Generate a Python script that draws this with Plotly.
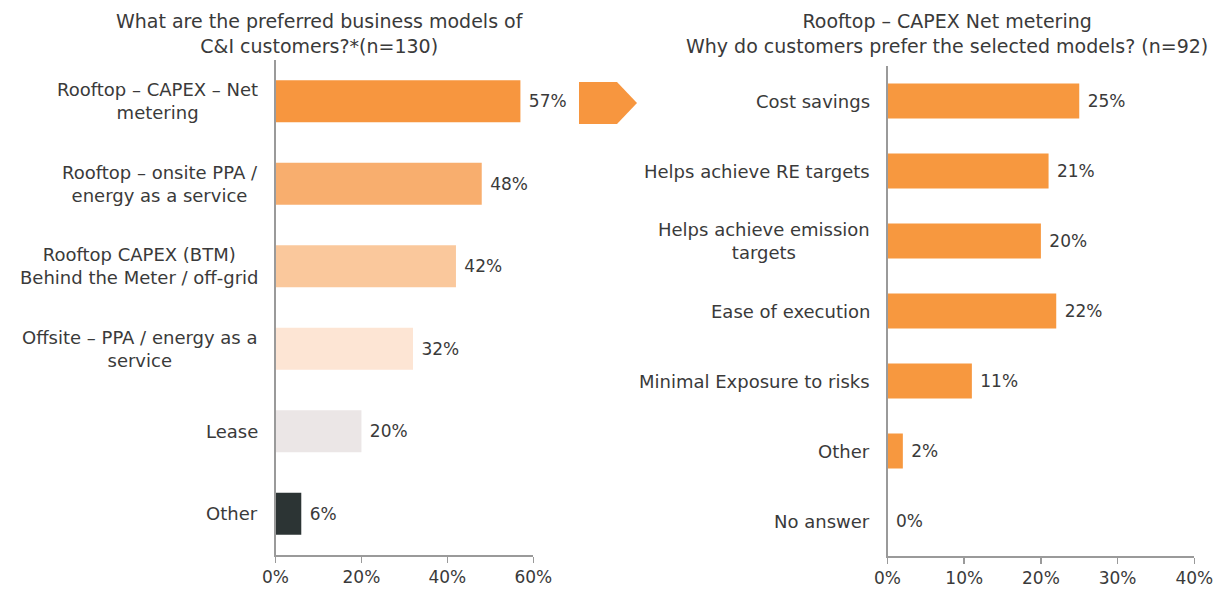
import plotly.graph_objects as go

# ---- data ----
left_categories = [
    "Rooftop – CAPEX – Net<br>metering",
    "Rooftop – onsite PPA /<br>energy as a service",
    "Rooftop CAPEX (BTM)<br>Behind the Meter / off-grid",
    "Offsite – PPA / energy as a<br>service",
    "Lease",
    "Other",
]
left_values = [57, 48, 42, 32, 20, 6]
left_colors = ["#F7963F", "#F8AE6E", "#FAC89C", "#FDE5D4", "#EBE6E6", "#2C3434"]

right_categories = [
    "Cost savings",
    "Helps achieve RE targets",
    "Helps achieve emission<br>targets",
    "Ease of execution",
    "Minimal Exposure to risks",
    "Other",
    "No answer",
]
right_values = [25, 21, 20, 22, 11, 2, 0]
right_color = "#F7983F"

left_ticks = [0, 20, 40, 60]
right_ticks = [0, 10, 20, 30, 40]

left_title = "What are the preferred business models of<br>C&I customers?*(n=130)"
right_title = "Rooftop – CAPEX Net metering<br>Why do customers prefer the selected models? (n=92)"

W, H = 1221, 590
TXT = "#3a3a3a"
AX = "#9a9a9a"
FONT = "DejaVu Sans, Open Sans, sans-serif"

def px(x):
    return x / W

def py(y):
    return 1 - y / H

fig = go.Figure()

fig.add_trace(go.Bar(
    x=left_values, y=left_categories, orientation="h",
    marker=dict(color=left_colors, line=dict(width=0)),
    width=0.51,
    text=[f"\u00a0{v}%" for v in left_values], textposition="outside",
    textfont=dict(family=FONT, size=17, color=TXT),
    cliponaxis=False, xaxis="x", yaxis="y", showlegend=False, hoverinfo="skip",
))
fig.add_trace(go.Bar(
    x=right_values, y=right_categories, orientation="h",
    marker=dict(color=right_color, line=dict(width=0)),
    width=0.5,
    text=[f"\u00a0{v}%" for v in right_values], textposition="outside",
    textfont=dict(family=FONT, size=17, color=TXT),
    cliponaxis=False, xaxis="x2", yaxis="y2", showlegend=False, hoverinfo="skip",
))

axis_common = dict(showgrid=False, zeroline=False, showline=True, linecolor=AX, linewidth=1.5,
                   ticks="outside", tickcolor=AX, ticklen=6, tickwidth=1.5, tickmode="array",
                   automargin=False, tickfont=dict(family=FONT, size=17, color=TXT))

fig.update_layout(
    width=W, height=H,
    margin=dict(l=0, r=0, t=0, b=0, autoexpand=False),
    paper_bgcolor="white", plot_bgcolor="white",
    font=dict(family=FONT, color=TXT),
    xaxis=dict(domain=[px(275.5), px(533.3)], range=[0, 60], tickvals=left_ticks,
               ticktext=[f"{t}%" for t in left_ticks], anchor="y", **axis_common),
    yaxis=dict(domain=[py(555), py(60)], autorange="reversed", showticklabels=False, automargin=False,
               showline=True, linecolor=AX, linewidth=1.5, ticks="", showgrid=False, anchor="x"),
    xaxis2=dict(domain=[px(887.5), px(1194.3)], range=[0, 40], tickvals=right_ticks,
                ticktext=[f"{t}%" for t in right_ticks], anchor="y2", **axis_common),
    yaxis2=dict(domain=[py(556), py(66)], autorange="reversed", showticklabels=False, automargin=False,
                showline=True, linecolor=AX, linewidth=1.5, ticks="", showgrid=False, anchor="x2"),
    bargap=0.5,
)

annotations = []
for c in left_categories:
    annotations.append(dict(x=px(275.5), y=c, xref="paper", yref="y", text=c, showarrow=False,
                            xanchor="right", xshift=-16, align="center",
                            font=dict(family=FONT, size=18, color=TXT)))
for c in right_categories:
    annotations.append(dict(x=px(887.5), y=c, xref="paper", yref="y2", text=c, showarrow=False,
                            xanchor="right", xshift=-16, align="center",
                            font=dict(family=FONT, size=18, color=TXT)))
annotations.append(dict(x=px(319.5), y=py(33), xref="paper", yref="paper", text=left_title,
                        showarrow=False, xanchor="center", yanchor="middle", align="center",
                        font=dict(family=FONT, size=19, color=TXT)))
annotations.append(dict(x=px(947), y=py(33), xref="paper", yref="paper", text=right_title,
                        showarrow=False, xanchor="center", yanchor="middle", align="center",
                        font=dict(family=FONT, size=19, color=TXT)))
fig.update_layout(annotations=annotations)

# arrow chevron between panels
pts = [(579, 82), (617, 82), (637, 103), (617, 124), (579, 124)]
path = "M " + " L ".join(f"{px(x):.5f},{py(y):.5f}" for x, y in pts) + " Z"
fig.add_shape(type="path", path=path, xref="paper", yref="paper",
              fillcolor="#F7963F", line=dict(width=0))

fig.write_html(
    "out.html",
    config={"displayModeBar": False, "staticPlot": True},
    post_script="document.body.style.margin='0';document.body.style.overflow='hidden';",
)
